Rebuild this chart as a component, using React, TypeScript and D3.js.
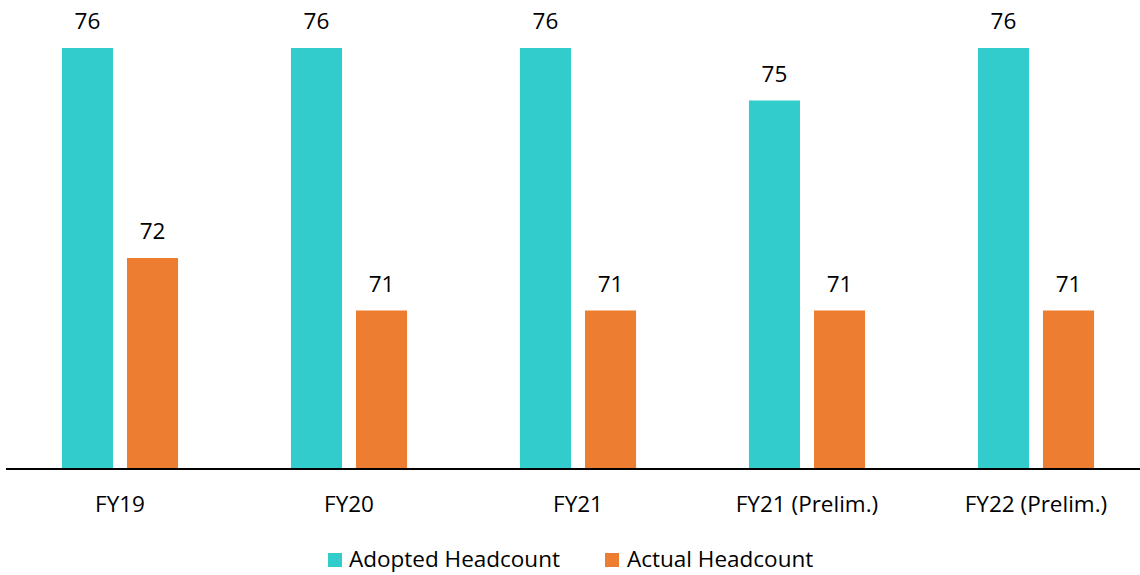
import React from "react";
import * as d3 from "d3";

const categories = ["FY19", "FY20", "FY21", "FY21 (Prelim.)", "FY22 (Prelim.)"];
const seriesNames = ["Adopted Headcount", "Actual Headcount"];
const adopted = [76, 76, 76, 75, 76];
const actual = [72, 71, 71, 71, 71];
const colors = ["#33CCCC", "#ED7D31"];

const W = 1140;
const H = 575;
const FONT = "'Open Sans', sans-serif";
const FS = 22.5;

export default function App() {
  const x0 = d3.scaleBand<string>().domain(categories).range([5.5, 1150.5]).paddingInner(0.493).paddingOuter(0.2465);
  const x1 = d3.scaleBand<string>().domain(seriesNames).range([0, x0.bandwidth()]).paddingInner(0.215).paddingOuter(0);
  const y = d3.scaleLinear().domain([68, 76]).range([468, 48]);
  const seriesVals = [adopted, actual];

  return (
    <svg width={W} height={H} style={{ position: "absolute", left: 0, top: 0, background: "#fff" }}>
      {categories.map((c, i) => (
        <g key={c}>
          {seriesNames.map((s, j) => {
            const v = seriesVals[j][i];
            const bx = (x0(c) as number) + (x1(s) as number);
            return (
              <g key={s}>
                <rect x={bx} y={y(v)} width={x1.bandwidth()} height={y(68) - y(v)} fill={colors[j]} />
                <text x={bx + x1.bandwidth() / 2} y={y(v) - 19} textAnchor="middle" fontFamily={FONT} fontSize={FS} fill="#000">{v}</text>
              </g>
            );
          })}
          <text x={(x0(c) as number) + x0.bandwidth() / 2} y={512} textAnchor="middle" fontFamily={FONT} fontSize={FS} fill="#000">{c}</text>
        </g>
      ))}
      <line x1={6} x2={1140} y1={469} y2={469} stroke="#000" strokeWidth={2} />
      <g>
        <rect x={328} y={553} width={14} height={14} fill={colors[0]} />
        <text x={349} y={567} fontFamily={FONT} fontSize={FS} fill="#000">{seriesNames[0]}</text>
        <rect x={605} y={553} width={14} height={14} fill={colors[1]} />
        <text x={627} y={567} fontFamily={FONT} fontSize={FS} fill="#000">{seriesNames[1]}</text>
      </g>
    </svg>
  );
}
